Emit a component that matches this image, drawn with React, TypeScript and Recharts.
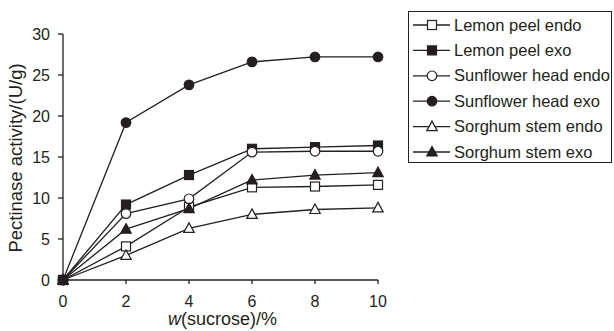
import React from 'react';
import { LineChart, Line, XAxis, YAxis, Label } from 'recharts';

const sucrose = [0, 2, 4, 6, 8, 10];
const lemonPeelEndo = [0, 4.1, 8.9, 11.3, 11.4, 11.6];
const lemonPeelExo = [0, 9.2, 12.8, 16.0, 16.2, 16.4];
const sunflowerHeadEndo = [0, 8.1, 9.9, 15.6, 15.7, 15.7];
const sunflowerHeadExo = [0, 19.2, 23.8, 26.6, 27.2, 27.2];
const sorghumStemEndo = [0, 3.0, 6.3, 8.0, 8.6, 8.8];
const sorghumStemExo = [0, 6.2, 8.7, 12.2, 12.8, 13.1];
const yTicks = [0, 5, 10, 15, 20, 25, 30];

const INK = '#231f20';
const FONT = 'Arial, "Liberation Sans", Helvetica, sans-serif';

type Shape = 'square' | 'circle' | 'triangle';

const series: { key: string; name: string; values: number[]; shape: Shape; filled: boolean }[] = [
  { key: 'lpEndo', name: 'Lemon peel endo', values: lemonPeelEndo, shape: 'square', filled: false },
  { key: 'lpExo', name: 'Lemon peel exo', values: lemonPeelExo, shape: 'square', filled: true },
  { key: 'shEndo', name: 'Sunflower head endo', values: sunflowerHeadEndo, shape: 'circle', filled: false },
  { key: 'shExo', name: 'Sunflower head exo', values: sunflowerHeadExo, shape: 'circle', filled: true },
  { key: 'ssEndo', name: 'Sorghum stem endo', values: sorghumStemEndo, shape: 'triangle', filled: false },
  { key: 'ssExo', name: 'Sorghum stem exo', values: sorghumStemExo, shape: 'triangle', filled: true },
];

const chartData = sucrose.map((x, i) => {
  const row: Record<string, number> = { x };
  series.forEach(s => { row[s.key] = s.values[i]; });
  return row;
});

const Marker = ({ cx, cy, shape, filled }: { cx: number; cy: number; shape: Shape; filled: boolean }) => {
  const fill = filled ? INK : '#fff';
  if (shape === 'square') {
    return <rect x={cx - 4.5} y={cy - 4.5} width={9} height={9} fill={fill} stroke={INK} strokeWidth={1.2} />;
  }
  if (shape === 'circle') {
    return <circle cx={cx} cy={cy} r={4.8} fill={fill} stroke={INK} strokeWidth={1.2} />;
  }
  return (
    <polygon
      points={`${cx},${cy - 5.5} ${cx + 5.2},${cy + 4} ${cx - 5.2},${cy + 4}`}
      fill={fill}
      stroke={INK}
      strokeWidth={1.2}
    />
  );
};

const XTitle = (props: any) => {
  const { x, width } = props.viewBox;
  return (
    <text x={x + width / 2 + 2} y={325} textAnchor="middle" fontSize={18} fill={INK} fontFamily={FONT}>
      <tspan fontStyle="italic">w</tspan>
      <tspan>(sucrose)/%</tspan>
    </text>
  );
};

const YTitle = () => {
  const cy = 158;
  return (
    <text
      x={22}
      y={cy}
      transform={`rotate(-90, 22, ${cy})`}
      textAnchor="middle"
      fontSize={18.5}
      fill={INK}
      fontFamily={FONT}
    >
      Pectinase activity/(U/g)
    </text>
  );
};

const LegendBox = () => (
  <div
    style={{
      position: 'absolute',
      left: 408,
      top: 11,
      width: 204,
      height: 152,
      border: `1px solid ${INK}`,
      boxSizing: 'border-box',
      background: '#fff',
    }}
  >
    <svg width={204} height={152} style={{ position: 'absolute', left: -1, top: -1 }}>
      {series.map((s, i) => {
        const cy = 14 + i * 25.4;
        return (
          <g key={s.key}>
            <line x1={5} x2={42} y1={cy} y2={cy} stroke={INK} strokeWidth={1.3} />
            <Marker cx={24} cy={cy} shape={s.shape} filled={s.filled} />
            <text x={46} y={cy + 5.5} fontSize={16.5} fill={INK} fontFamily={FONT}>
              {s.name}
            </text>
          </g>
        );
      })}
    </svg>
  </div>
);

const App: React.FC = () => {
  return (
    <div style={{ position: 'absolute', left: 0, top: 0, width: 614, height: 331, background: '#fff' }}>
      <LineChart width={614} height={331} data={chartData} margin={{ top: 34, right: 236, left: 0, bottom: 0 }}>
        <XAxis
          dataKey="x"
          type="number"
          domain={[0, 10]}
          ticks={sucrose}
          tickSize={4}
          tickMargin={12}
          height={51}
          axisLine={{ stroke: INK, strokeWidth: 1.3 }}
          tickLine={{ stroke: INK, strokeWidth: 1.3 }}
          tick={{ fontSize: 16, fill: INK, fontFamily: FONT }}
        >
          <Label content={XTitle} />
        </XAxis>
        <YAxis
          type="number"
          domain={[0, 30]}
          ticks={yTicks}
          width={63}
          tickSize={5}
          tickMargin={8}
          axisLine={{ stroke: INK, strokeWidth: 1.3 }}
          tickLine={{ stroke: INK, strokeWidth: 1.3 }}
          tick={{ fontSize: 16, fill: INK, fontFamily: FONT }}
        >
          <Label content={YTitle} />
        </YAxis>
        {series.map(s => (
          <Line
            key={s.key}
            dataKey={s.key}
            name={s.name}
            type="linear"
            stroke={INK}
            strokeWidth={1.3}
            isAnimationActive={false}
            dot={(p: any) => <Marker key={`${s.key}-${p.index}`} cx={p.cx} cy={p.cy} shape={s.shape} filled={s.filled} />}
            activeDot={false}
          />
        ))}
      </LineChart>
      <LegendBox />
    </div>
  );
};

export default App;
